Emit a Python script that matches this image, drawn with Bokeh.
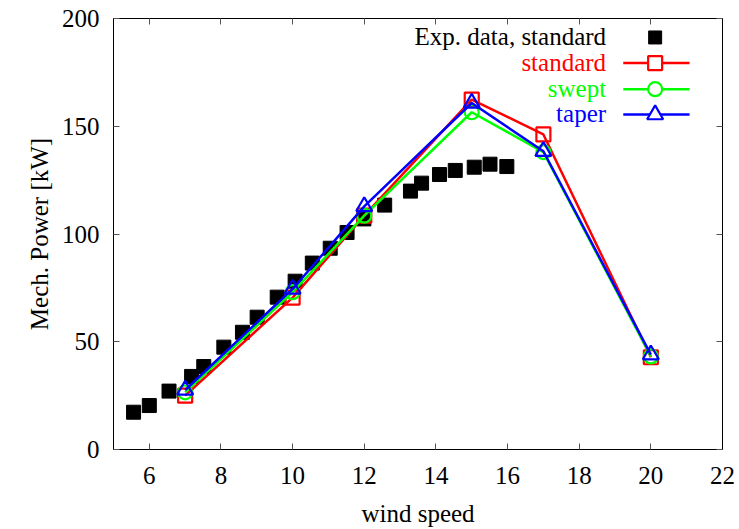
from bokeh.plotting import figure
from bokeh.models import LinearAxis, FixedTicker, Range1d, CustomLabelingPolicy
from bokeh.embed import file_html
from bokeh.resources import INLINE
from bokeh.core.properties import value

# ---- data ----
exp_x = [5.56, 6.0, 6.55, 7.18, 7.52, 8.08, 8.6, 9.01, 9.57, 10.07, 10.55, 11.05, 11.52, 11.99,
         12.57, 13.29, 13.6, 14.1, 14.54, 15.07, 15.51, 15.98]
exp_y = [17.3, 20.4, 27.1, 33.9, 38.5, 47.5, 54.4, 61.4, 70.7, 78.1, 86.5, 93.4, 100.7, 107.0,
         113.4, 119.9, 123.6, 127.6, 129.5, 131.0, 132.4, 131.3]
sim_x = [7, 10, 12, 15, 17, 20]
standard = [25.0, 70.5, 108.5, 162.4, 146.2, 42.8]
swept = [26.5, 73.0, 108.5, 156.5, 138.0, 43.2]
taper = [27.6, 74.5, 112.8, 160.8, 138.4, 44.0]
x_ticks = [6, 8, 10, 12, 14, 16, 18, 20, 22]
y_ticks = [0, 50, 100, 150, 200]
legend_labels = ["Exp. data, standard", "standard", "swept", "taper"]
x_title = "wind speed"
y_title = "Mech. Power [kW]"
colors = ["black", "#ff0000", "#00ff00", "#0000ff"]

FONT = "Liberation Serif"
FS = "25px"

p = figure(width=739, height=529, output_backend="svg", toolbar_location=None,
           x_range=Range1d(5, 22), y_range=Range1d(0, 200),
           min_border_left=113, min_border_right=17, min_border_top=18, min_border_bottom=80,
           x_axis_label=x_title, y_axis_label=y_title)
p.grid.visible = False
p.outline_line_color = "black"
p.outline_line_width = 1
p.background_fill_color = "white"
p.border_fill_color = "white"

for ax in p.xaxis + p.yaxis:
    ax.major_label_text_font = FONT
    ax.major_label_text_font_size = FS
    ax.major_label_text_color = "black"
    ax.axis_label_text_font = FONT
    ax.axis_label_text_font_size = FS
    ax.axis_label_text_font_style = "normal"
    ax.axis_label_text_color = "black"
    ax.major_tick_in = 6
    ax.major_tick_out = 0
    ax.minor_tick_line_color = None
    ax.major_tick_line_color = "#555555"
    ax.axis_line_color = "black"
p.xaxis.ticker = FixedTicker(ticks=x_ticks)
p.yaxis.ticker = FixedTicker(ticks=y_ticks)
p.xaxis.major_label_standoff = 17
p.xaxis.axis_label_standoff = 13
p.yaxis.major_label_standoff = 14
p.yaxis.axis_label_standoff = 6

# mirror ticks on top and right (labels hidden)
hide_all = "for (const i of indices) indices.unset(i)"
top = LinearAxis(ticker=FixedTicker(ticks=x_ticks), major_label_text_font_size="1px",
                 major_tick_in=6, major_tick_out=0, minor_tick_line_color=None,
                 major_tick_line_color="#555555", major_label_standoff=0,
                 major_label_policy=CustomLabelingPolicy(code=hide_all))
right = LinearAxis(ticker=FixedTicker(ticks=y_ticks), major_label_text_font_size="1px",
                   major_tick_in=6, major_tick_out=0, minor_tick_line_color=None,
                   major_tick_line_color="#555555", major_label_standoff=0,
                   major_label_policy=CustomLabelingPolicy(code=hide_all))
p.add_layout(top, "above")
p.add_layout(right, "right")

# experimental data
p.scatter(exp_x, exp_y, marker="square", size=14, color="black")

series = [(standard, "square", 14), (swept, "circle", 14), (taper, "triangle", 16)]
for (ys, mk, sz), col in zip(series, colors[1:]):
    p.line(sim_x, ys, line_color=col, line_width=2.5)
    p.scatter(sim_x, ys, marker=mk, size=sz, line_color=col, line_width=2.2,
              fill_color=None)

# legend (gnuplot style: right-aligned text, sample on the right)
leg_y = [191.2, 179.3, 167.2, 155.4]
text_x = 18.75
line_x0, line_x1, mark_x = 19.23, 21.08, 20.12
p.text([text_x] * 4, [v + 0.4 for v in leg_y], text=legend_labels, text_align="right",
       text_baseline="middle", text_font=value(FONT), text_font_size=FS, text_color=colors)
p.scatter([mark_x], [leg_y[0]], marker="square", size=13, color="black")
for i, ((ys, mk, sz), col) in enumerate(zip(series, colors[1:])):
    yy = leg_y[i + 1]
    p.line([line_x0, line_x1], [yy, yy], line_color=col, line_width=2.5)
    p.scatter([mark_x], [yy], marker=mk, size=sz, line_color=col, line_width=2.2,
              fill_color="white")

open("out.html", "w").write(file_html(p, INLINE))
